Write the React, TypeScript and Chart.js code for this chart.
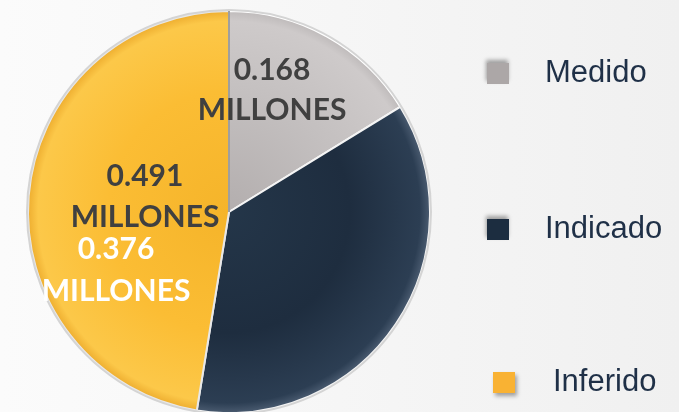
import React, { useEffect, useRef } from "react";
import { Chart, registerables } from "chart.js";

Chart.register(...registerables);

const categories = ["Medido", "Indicado", "Inferido"];
const values = [0.168, 0.376, 0.491];
const unitLabel = "MILLONES";
const legendColors = ["#aca7a7", "#1c2d40", "#f9b233"];
const labelColors = ["#404040", "#ffffff", "#404040"];

// slice gradient stops (inner -> outer)
const sliceStops: string[][] = [
  ["#b3aeae", "#c4c0c0", "#cecaca", "#bfbbbb"],
  ["#243649", "#1e2d3f", "#2c3e53", "#4a5b70"],
  ["#f5b42a", "#fbbd34", "#fcc849", "#eeae30"],
];

// label placement relative to pie centre, in units of radius
const labelOffsets = [
  { dx: 0.214, dy: -0.607, gap: 0.2 },
  { dx: -0.562, dy: 0.289, gap: 0.21 },
  { dx: -0.418, dy: -0.075, gap: 0.2 },
];

// legend layout in pixels
const legendLayout = [
  { box: 487, text: 545, y: 73 },
  { box: 487, text: 545, y: 229 },
  { box: 493, text: 553, y: 382 },
];

const PIE_RADIUS = 201;

const labelPlugin = {
  id: "sliceLabels",
  afterDatasetsDraw(chart: any) {
    const meta = chart.getDatasetMeta(0);
    const arc0 = meta.data[0];
    if (!arc0) return;
    const cx = arc0.x;
    const cy = arc0.y;
    const r = arc0.outerRadius;
    const ctx = chart.ctx;
    ctx.save();
    // outer ring
    ctx.beginPath();
    ctx.arc(cx, cy, r + 1, 0, Math.PI * 2);
    ctx.strokeStyle = "#d4d4d4";
    ctx.lineWidth = 2;
    ctx.stroke();
    // dark divider at start of first slice
    const a = arc0.startAngle;
    ctx.beginPath();
    ctx.moveTo(cx, cy);
    ctx.lineTo(cx + Math.cos(a) * r, cy + Math.sin(a) * r);
    ctx.strokeStyle = "#6e6e6e";
    ctx.lineWidth = 1.2;
    ctx.stroke();

    ctx.font = "bold 30px Lato, 'Open Sans', sans-serif";
    ctx.textAlign = "center";
    ctx.textBaseline = "middle";
    values.forEach((v, i) => {
      const o = labelOffsets[i];
      const x = cx + o.dx * r;
      const y = cy + o.dy * r;
      const g = o.gap * r;
      ctx.fillStyle = labelColors[i];
      ctx.fillText(v.toFixed(3), x, y - g / 2);
      ctx.fillText(unitLabel, x, y + g / 2);
    });
    ctx.restore();
  },
  afterDraw(chart: any) {
    const ctx = chart.ctx;
    ctx.save();
    ctx.font = "31px 'Liberation Sans', Arial, sans-serif";
    ctx.textBaseline = "middle";
    ctx.textAlign = "left";
    categories.forEach((c, i) => {
      const L = legendLayout[i];
      ctx.save();
      ctx.shadowColor = "rgba(0,0,0,0.35)";
      ctx.shadowBlur = 4;
      ctx.shadowOffsetX = i === 2 ? 2 : -1;
      ctx.shadowOffsetY = i === 2 ? 3 : -3;
      ctx.fillStyle = legendColors[i];
      ctx.fillRect(L.box, L.y - 10, 22, 21);
      ctx.restore();
      ctx.fillStyle = "#1f3047";
      ctx.fillText(c, L.text, L.y);
    });
    ctx.restore();
  },
};

export default function App() {
  const ref = useRef<HTMLCanvasElement>(null);
  useEffect(() => {
    document.body.style.margin = "0";
    const canvas = ref.current;
    if (!canvas) return;
    const chart = new Chart(canvas, {
      type: "pie",
      data: {
        labels: categories,
        datasets: [
          {
            data: values,
            radius: PIE_RADIUS,
            borderColor: ["#ffffff", "#f4f4f4", "#e8e8e8"],
            borderWidth: 2,
            backgroundColor: (context: any) => {
              const chart = context.chart;
              const area = chart.chartArea;
              const i = context.dataIndex;
              if (!area) return legendColors[i];
              const cx = (area.left + area.right) / 2;
              const cy = (area.top + area.bottom) / 2;
              const g = chart.ctx.createRadialGradient(cx, cy, 0, cx, cy, PIE_RADIUS);
              const s = sliceStops[i];
              g.addColorStop(0, s[0]);
              g.addColorStop(0.6, s[1]);
              g.addColorStop(0.95, s[2]);
              g.addColorStop(1, s[3]);
              return g;
            },
          } as any,
        ],
      },
      options: {
        animation: false,
        responsive: false,
        maintainAspectRatio: false,
        layout: { padding: { left: 0, right: 221, top: 12, bottom: 0 } },
        plugins: {
          legend: { display: false },
          tooltip: { enabled: false },
        },
      },
      plugins: [labelPlugin],
    });
    return () => chart.destroy();
  }, []);
  return (
    <div
      style={{
        position: "fixed",
        left: 0,
        top: 0,
        width: 679,
        height: 412,
        overflow: "hidden",
        background: "linear-gradient(90deg, #fbfbfb 0%, #f6f6f6 50%, #f0f0f0 100%)",
      }}
    >
      <canvas ref={ref} width={679} height={412} style={{ width: 679, height: 412, display: "block" }} />
    </div>
  );
}
